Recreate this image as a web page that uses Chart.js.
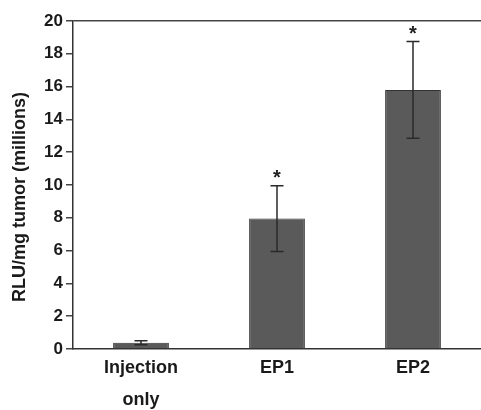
<!DOCTYPE html>
<html>
<head>
<meta charset="utf-8">
<script src="https://cdn.jsdelivr.net/npm/chart.js@4/dist/chart.umd.min.js"></script>
<style>
html,body{margin:0;padding:0;background:#fff;}
#wrap{width:481px;height:410px;}
</style>
</head>
<body>
<div id="wrap"><canvas id="c" width="481" height="410"></canvas></div>
<script>
const categories = [["Injection", "only"], "EP1", "EP2"];
const values = [0.38, 7.95, 15.8];
const errors = [0.12, 2.0, 2.95];
const significant = [false, true, true];
const yTicks = [0, 2, 4, 6, 8, 10, 12, 14, 16, 18, 20];
const yTitle = 'RLU/mg tumor (millions)';

const FONT = '"Liberation Sans", Arial, sans-serif';

const errorBarPlugin = {
  id: 'errorBars',
  afterDatasetsDraw(chart) {
    const ctx = chart.ctx;
    const meta = chart.getDatasetMeta(0);
    const y = chart.scales.y;
    ctx.save();
    ctx.strokeStyle = '#2a2a2a';
    ctx.lineWidth = 1.5;
    meta.data.forEach((bar, i) => {
      const x = bar.x;
      const yHi = y.getPixelForValue(values[i] + errors[i]);
      const yLo = y.getPixelForValue(values[i] - errors[i]);
      const cap = 6.5;
      ctx.beginPath();
      ctx.moveTo(x, yHi); ctx.lineTo(x, yLo);
      ctx.moveTo(x - cap, yHi); ctx.lineTo(x + cap, yHi);
      ctx.moveTo(x - cap, yLo); ctx.lineTo(x + cap, yLo);
      ctx.stroke();
      if (significant[i]) {
        ctx.fillStyle = '#222';
        ctx.font = 'bold 20px ' + FONT;
        ctx.textAlign = 'center';
        ctx.textBaseline = 'middle';
        ctx.fillText('*', x, yHi - 7);
      }
    });
    // y-axis title
    const area = chart.chartArea;
    ctx.fillStyle = '#1a1a1a';
    ctx.font = 'bold 18px ' + FONT;
    ctx.textAlign = 'center';
    ctx.textBaseline = 'middle';
    ctx.translate(20, (area.top + area.bottom) / 2 + 12);
    ctx.rotate(-Math.PI / 2);
    ctx.fillText(yTitle, 0, 0);
    ctx.restore();
  }
};

new Chart(document.getElementById('c'), {
  type: 'bar',
  data: {
    labels: categories,
    datasets: [{
      data: values,
      backgroundColor: '#5a5a5a',
      borderColor: '#333333',
      borderWidth: 1,
      barPercentage: 0.41,
      categoryPercentage: 1.0
    }]
  },
  options: {
    responsive: false,
    animation: false,
    devicePixelRatio: 1,
    layout: { padding: { top: 21, right: 0, left: 0, bottom: 0 } },
    plugins: { legend: { display: false }, tooltip: { enabled: false } },
    scales: {
      x: {
        grid: { display: false, drawTicks: false },
        border: { display: true, color: '#333', width: 1.5 },
        ticks: {
          color: '#1a1a1a',
          padding: 3,
          maxRotation: 0,
          font: { family: FONT, size: 18, weight: 'bold', lineHeight: 1.78 }
        },
        afterFit(s) { s.height = 61; }
      },
      y: {
        min: 0, max: 20,
        afterBuildTicks(s) { s.ticks = yTicks.map(v => ({ value: v })); },
        grid: {
          drawOnChartArea: true,
          color: c => (c.tick && c.tick.value === 20) ? '#444' : 'rgba(0,0,0,0)',
          tickColor: '#444',
          tickLength: 7,
          lineWidth: 1.5
        },
        border: { display: true, color: '#333', width: 1.5 },
        ticks: {
          color: '#1a1a1a',
          padding: 3,
          font: { family: FONT, size: 17, weight: 'bold' }
        },
        afterFit(s) { s.width = 73; }
      }
    }
  },
  plugins: [errorBarPlugin]
});
</script>
</body>
</html>
